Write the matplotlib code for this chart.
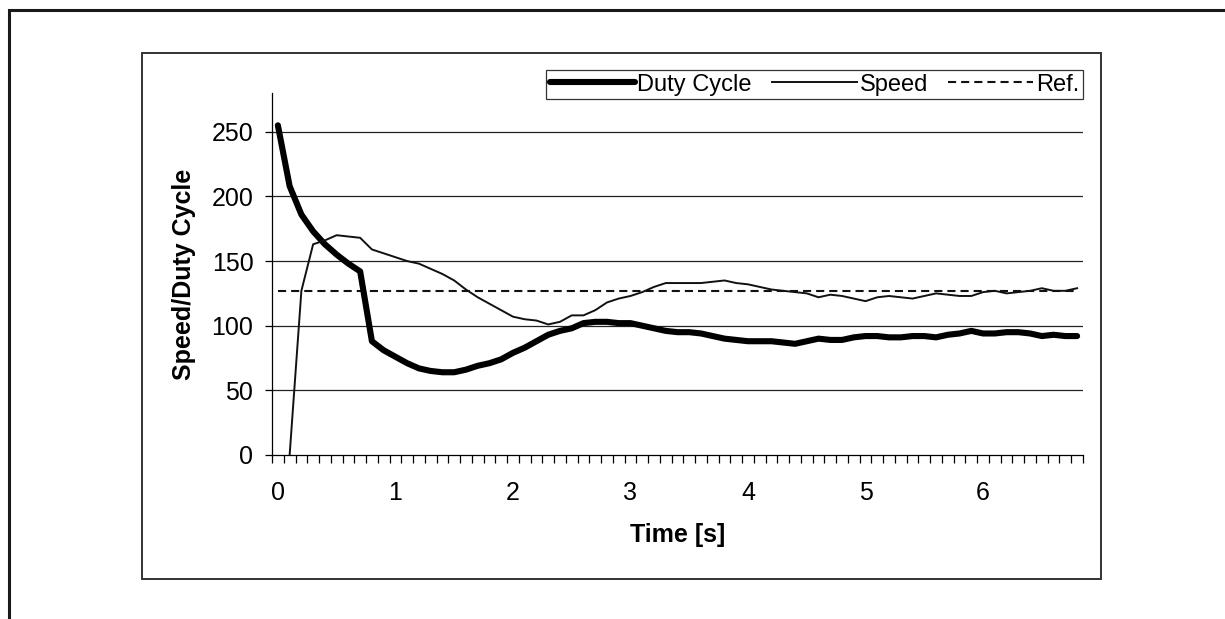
import matplotlib
matplotlib.use('Agg')
import matplotlib.pyplot as plt
from matplotlib.patches import Rectangle
import numpy as np

plt.rcParams['font.family'] = ['Liberation Sans', 'DejaVu Sans']

# ----------------------------
# Data (sampled every 0.1 s, 0 .. 6.8 s)
# ----------------------------
time_s = np.arange(69) / 10.0

duty = [255, 208, 186, 173, 163, 155, 148, 142, 88, 81,
        76, 71, 67, 65, 64, 64, 66, 69, 71, 74,
        79, 83, 88, 93, 96, 98, 102, 103, 103, 102,
        102, 100, 98, 96, 95, 95, 94, 92, 90, 89,
        88, 88, 88, 87, 86, 88, 90, 89, 89, 91,
        92, 92, 91, 91, 92, 92, 91, 93, 94, 96,
        94, 94, 95, 95, 94, 92, 93, 92, 92]

speed = [np.nan, 0, 127, 163, 166, 170, 169, 168, 159, 156,
         153, 150, 148, 144, 140, 135, 128, 122, 117, 112,
         107, 105, 104, 101, 103, 108, 108, 112, 118, 121,
         123, 126, 130, 133, 133, 133, 133, 134, 135, 133,
         132, 130, 128, 127, 126, 125, 122, 124, 123, 121,
         119, 122, 123, 122, 121, 123, 125, 124, 123, 123,
         126, 127, 125, 126, 127, 129, 127, 127, 129]

ref_value = 127
ref = np.full(len(time_s), ref_value)

# ----------------------------
# Figure & layout
# ----------------------------
W, H = 1225, 619
fig = plt.figure(figsize=(W / 100, H / 100), dpi=100)

def px_box(x0, y0, x1, y1):
    # pixel box (top-left origin) -> figure fraction rect
    return [x0 / W, 1 - y1 / H, (x1 - x0) / W, (y1 - y0) / H]

ax = fig.add_axes(px_box(272, 93, 1083, 455))

# outer frames
fig.patches.append(Rectangle((9 / W, -0.1), 1.2, 1 - 10 / H + 0.1,
                             transform=fig.transFigure, fill=False,
                             edgecolor='#1a1a1a', lw=2.2))
fig.patches.append(Rectangle((142 / W, 1 - 579 / H), (1101 - 142) / W, (579 - 53) / H,
                             transform=fig.transFigure, fill=False,
                             edgecolor='#333333', lw=1.4))

# ----------------------------
# Lines
# ----------------------------
l_duty, = ax.plot(time_s, duty, color='black', lw=4.4,
                  solid_capstyle='round', solid_joinstyle='round',
                  label='Duty Cycle', zorder=4)
l_speed, = ax.plot(time_s, speed, color='#111111', lw=1.4,
                   label='Speed', zorder=5)
l_ref, = ax.plot(time_s, ref, color='#111111', lw=1.5,
                 linestyle=(0, (3.9, 2.4)), label='Ref.', zorder=3)

# ----------------------------
# Axes styling
# ----------------------------
ax.set_xlim(-0.05, 6.85)
ax.set_ylim(0, 280)

ax.set_yticks([0, 50, 100, 150, 200, 250])
ax.set_xticks([0, 1, 2, 3, 4, 5, 6])
ax.set_xticks(np.arange(69 + 1) / 10.0 - 0.05, minor=True)

ax.tick_params(axis='y', direction='out', length=5.4, width=0.9,
               labelsize=18, pad=8, colors='black')
ax.tick_params(axis='x', which='major', length=0, labelsize=18, pad=19)
ax.tick_params(axis='x', which='minor', direction='out', length=5.4, width=0.9)

for s in ['top', 'right']:
    ax.spines[s].set_visible(False)
for s in ['left', 'bottom']:
    ax.spines[s].set_linewidth(0.9)
    ax.spines[s].set_color('black')

for yv in [50, 100, 150, 200, 250]:
    ax.axhline(yv, color='#222222', lw=0.9, zorder=1)

ax.set_xlabel('Time [s]', fontsize=18, fontweight='bold', va='center')
ax.xaxis.set_label_coords(0.5, -0.221)
ax.set_ylabel('Speed/Duty Cycle', fontsize=18, fontweight='bold', va='center')
ax.yaxis.set_label_coords(-0.109, 0.5)

# ----------------------------
# Legend
# ----------------------------
leg = fig.legend([l_duty, l_speed, l_ref], ['Duty Cycle', 'Speed', 'Ref.'],
                 loc='upper left', bbox_to_anchor=(546 / W, 1 - 70 / H),
                 ncol=3, fontsize=17, frameon=True, fancybox=False,
                 handlelength=3.6, handletextpad=0.12, columnspacing=0.85,
                 borderpad=0.15, borderaxespad=0)
leg.get_frame().set_edgecolor('black')
leg.get_frame().set_linewidth(0.9)

fig.savefig('out.png', dpi=100)
